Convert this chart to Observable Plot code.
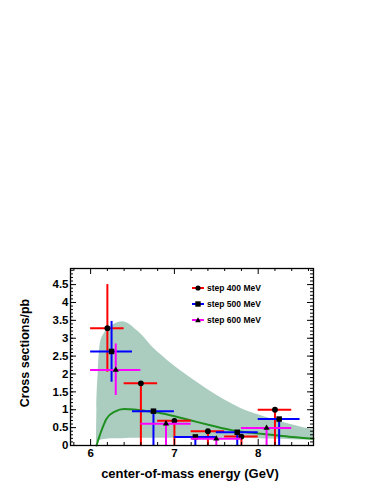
<!DOCTYPE html>
<html><head><meta charset="utf-8">
<script src="https://cdn.jsdelivr.net/npm/d3@7"></script>
<script src="https://cdn.jsdelivr.net/npm/@observablehq/plot@0.6"></script>
<style>
body{margin:0;background:#fff;}
#wrap{position:relative;width:374px;height:484px;font-family:"Liberation Sans",Arial,sans-serif;}
#legend{position:absolute;left:191px;top:280px;font-size:8.5px;font-weight:bold;color:#000;}
.item{display:flex;align-items:center;height:16.2px;}
.item svg{margin-right:2px;}
</style></head><body><div id="wrap"><div id="legend"></div></div>
<script>
// ---- data ----
const seriesNames = ["step 400 MeV", "step 500 MeV", "step 600 MeV"];
const seriesColors = ["#ff0000", "#0000ff", "#ff00ff"];

const s400X   = [6.2, 6.6, 7.0, 7.4, 7.8, 8.2];
const s400Y   = [3.28, 1.74, 0.69, 0.40, 0.25, 1.00];
const s400XLo = [6.0, 6.4, 6.8, 7.2, 7.6, 8.0];
const s400XHi = [6.4, 6.8, 7.2, 7.6, 8.0, 8.4];
const s400YLo = [2.05, 0, 0, 0, 0, 0];
const s400YHi = [4.50, 1.74, 0.69, 0.40, 0.25, 1.00];

const s500X   = [6.25, 6.75, 7.25, 7.75, 8.25];
const s500Y   = [2.63, 0.96, 0.24, 0.37, 0.74];
const s500XLo = [6.0, 6.5, 7.0, 7.5, 8.0];
const s500XHi = [6.5, 7.0, 7.5, 8.0, 8.5];
const s500YLo = [1.77, 0, 0, 0, 0];
const s500YHi = [3.47, 0.96, 0.24, 0.37, 0.74];

const s600X   = [6.3, 6.9, 7.5, 8.1];
const s600Y   = [2.11, 0.61, 0.19, 0.49];
const s600XLo = [6.0, 6.6, 7.2, 7.8];
const s600XHi = [6.6, 7.2, 7.8, 8.4];
const s600YLo = [1.40, 0, 0, 0];
const s600YHi = [2.84, 0.61, 0.19, 0.49];

const bandX  = [6.07, 6.075, 6.09, 6.12, 6.16, 6.21, 6.29, 6.385, 6.47, 6.56, 6.64, 6.72, 6.85, 7.0, 7.2, 7.4, 7.6, 7.8, 8.0, 8.2, 8.4, 8.66];
const bandHi = [0.05, 1.0, 2.0, 2.9, 3.12, 3.27, 3.40, 3.46, 3.38, 3.2, 3.02, 2.8, 2.52, 2.22, 1.88, 1.56, 1.27, 1.03, 0.86, 0.71, 0.58, 0.43];
const bandLo = [0.05, 0.08, 0.12, 0.15, 0.17, 0.18, 0.19, 0.19, 0.2, 0.2, 0.2, 0.2, 0.2, 0.2, 0.2, 0.2, 0.2, 0.2, 0.19, 0.18, 0.16, 0.15];

const theoryX = [6.07, 6.1, 6.13, 6.19, 6.29, 6.40, 6.52, 6.68, 6.84, 6.96, 7.2, 7.44, 7.68, 7.9, 8.15, 8.4, 8.66];
const theoryY = [0, 0.22, 0.42, 0.75, 0.95, 1.02, 1.01, 0.96, 0.90, 0.84, 0.70, 0.56, 0.43, 0.36, 0.30, 0.24, 0.19];

const yTickValues = [0, 0.5, 1, 1.5, 2, 2.5, 3, 3.5, 4, 4.5];
const yMinorTicks = d3.range(0, 4.95, 0.1).map(v => +v.toFixed(2));
const xTickValues = [6, 7, 8];
const xMinorTicks = [5.8, 6.2, 6.4, 6.6, 6.8, 7.2, 7.4, 7.6, 7.8, 8.2, 8.4, 8.6];
const xTitle = "center-of-mass energy (GeV)";
const yTitle = "Cross sections/pb";

// ---- tables ----
function table(X, Y, XLo, XHi, YLo, YHi) {
  return X.map((x, i) => ({x, y: Y[i], xlo: XLo[i], xhi: XHi[i], ylo: YLo[i], yhi: YHi[i]}));
}
const d400 = table(s400X, s400Y, s400XLo, s400XHi, s400YLo, s400YHi);
const d500 = table(s500X, s500Y, s500XLo, s500XHi, s500YLo, s500YHi);
const d600 = table(s600X, s600Y, s600XLo, s600XHi, s600YLo, s600YHi);
const band = bandX.map((x, i) => ({x, lo: bandLo[i], hi: bandHi[i]}));
const theory = theoryX.map((x, i) => ({x, y: theoryY[i]}));

const W = 374, H = 484;
const mL = 70, mR = 61, mT = 268, mB = 39;
const pW = W - mL - mR, pH = H - mT - mB;

function errMarks(data, color, symbol, r) {
  return [
    Plot.ruleY(data, {y: "y", x1: "xlo", x2: "xhi", stroke: color, strokeWidth: 2}),
    Plot.ruleX(data, {x: "x", y1: "ylo", y2: "yhi", stroke: color, strokeWidth: 2}),
    Plot.dot(data, {x: "x", y: "y", symbol, r, fill: "black", stroke: "none"})
  ];
}

const chart = Plot.plot({
  width: W, height: H,
  marginLeft: mL, marginRight: mR, marginTop: mT, marginBottom: mB,
  style: {fontFamily: "'Liberation Sans', Arial, sans-serif", fontSize: "11.5px", fontWeight: "bold", color: "black", background: "white"},
  x: {domain: [5.76, 8.66]},
  y: {domain: [0, 4.95]},
  marks: [
    Plot.areaY(band, {x: "x", y1: "lo", y2: "hi", fill: "#aacdc0", curve: "monotone-x"}),
    Plot.line(theory, {x: "x", y: "y", stroke: "#1f8f1f", strokeWidth: 2, curve: "monotone-x"}),
    ...errMarks(d400, seriesColors[0], "circle", 2.9),
    ...errMarks(d500, seriesColors[1], "square", 3.1),
    ...errMarks(d600, seriesColors[2], "triangle", 2.3),
    // frame ticks (inside, ROOT style)
    Plot.tickY(yMinorTicks, {y: d => d, insetRight: pW - 3, stroke: "black"}),
    Plot.tickY(yTickValues, {y: d => d, insetRight: pW - 6, stroke: "black"}),
    Plot.tickY(yMinorTicks, {y: d => d, insetLeft: pW - 3, stroke: "black"}),
    Plot.tickY(yTickValues, {y: d => d, insetLeft: pW - 6, stroke: "black"}),
    Plot.tickX(xMinorTicks, {x: d => d, insetBottom: pH - 3, stroke: "black"}),
    Plot.tickX(xTickValues, {x: d => d, insetBottom: pH - 6, stroke: "black"}),
    Plot.tickX(xMinorTicks, {x: d => d, insetTop: pH - 3, stroke: "black"}),
    Plot.tickX(xTickValues, {x: d => d, insetTop: pH - 6, stroke: "black"}),
    Plot.frame({stroke: "black", strokeWidth: 1.3}),
    Plot.axisY({ticks: yTickValues, tickSize: 0, tickPadding: 2, tickFormat: d => String(d), label: null}),
    Plot.axisX({ticks: xTickValues, tickSize: 0, tickPadding: 3, tickFormat: d => String(d), label: null}),
    Plot.text([xTitle], {frameAnchor: "bottom", textAnchor: "middle", lineAnchor: "middle", dy: 28, dx: -2, fontSize: 13, fontWeight: "bold", fill: "black"}),
    Plot.text([yTitle], {frameAnchor: "left", textAnchor: "middle", lineAnchor: "middle", dx: -46, dy: -4, rotate: -90, fontSize: 12.5, fontWeight: "bold", fill: "black"})
  ]
});
const wrap = document.getElementById("wrap");
wrap.insertBefore(chart, wrap.firstChild);

// ---- legend ----
const symbolPaths = {
  circle: '<circle cx="7" cy="4" r="2.6" fill="black"/>',
  square: '<rect x="4.3" y="1.3" width="5.4" height="5.4" fill="black"/>',
  triangle: '<path d="M7,1.2 L9.8,6.2 L4.2,6.2 Z" fill="black"/>'
};
const symbolsOrder = ["circle", "square", "triangle"];
const legend = document.getElementById("legend");
seriesNames.forEach((name, i) => {
  const div = document.createElement("div");
  div.className = "item";
  div.innerHTML = `<svg width="14" height="8"><line x1="1" x2="13" y1="4" y2="4" stroke="${seriesColors[i]}" stroke-width="2"/>${symbolPaths[symbolsOrder[i]]}</svg><span>${name}</span>`;
  legend.appendChild(div);
});
</script>
</body></html>
